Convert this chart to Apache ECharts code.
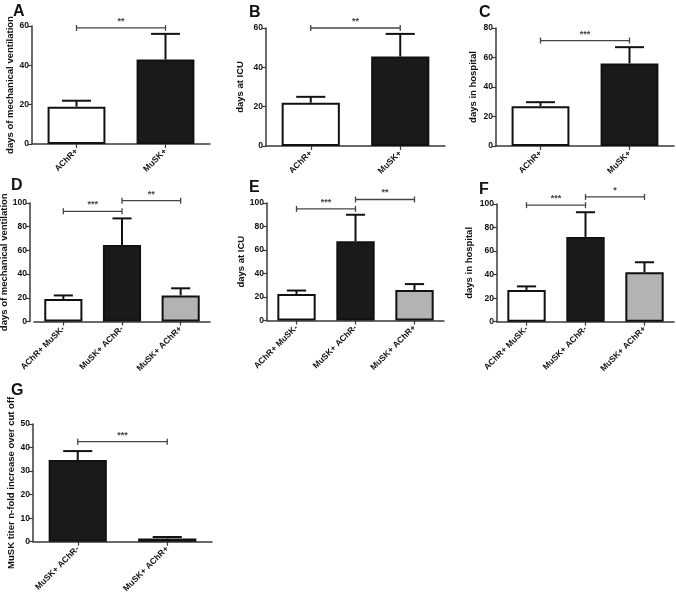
<!DOCTYPE html>
<html><head><meta charset="utf-8">
<script src="https://cdn.jsdelivr.net/npm/echarts/dist/echarts.min.js"></script>
<style>html,body{margin:0;padding:0;background:#fff}#c{width:676px;height:600px}</style>
</head><body><div id="c"></div>
<script>
// ---- data ----
const catsTwo = ['AChR+', 'MuSK+'];
const catsThree = ['AChR+ MuSK-', 'MuSK+ AChR-', 'MuSK+ AChR+'];
const catsG = ['MuSK+ AChR-', 'MuSK+ AChR+'];

const meanA = [19, 43];     const errA = [3, 13];
const meanB = [22, 45.5];   const errB = [3, 11.5];
const meanC = [27, 56];     const errC = [2.7, 11];
const meanD = [19, 64.5, 22];   const errD = [3, 22.5, 6];
const meanE = [22.5, 67.5, 26]; const errE = [3, 22.5, 5];
const meanF = [27, 72, 42];     const errF = [3, 21, 8.5];
const meanG = [34.7, 1.4];      const errG = [3.8, 0.6];

// significance: [fromIndex, toIndex, yValue]
const sigA = [[0, 1, 59]];    const sigTextA = ['**'];
const sigB = [[0, 1, 60]];    const sigTextB = ['**'];
const sigC = [[0, 1, 71.5]];  const sigTextC = ['***'];
const sigD = [[0, 1, 93], [1, 2, 102]];  const sigTextD = ['***', '**'];
const sigE = [[0, 1, 95], [1, 2, 103]];  const sigTextE = ['***', '**'];
const sigF = [[0, 1, 99], [1, 2, 106]];  const sigTextF = ['***', '*'];
const sigG = [[0, 1, 42.5]];  const sigTextG = ['***'];

const yTicksMax = {A: 60, B: 60, C: 80, D: 100, E: 100, F: 100, G: 50};
const yTicksStep = {A: 20, B: 20, C: 20, D: 20, E: 20, F: 20, G: 10};

// ---- styles / layout ----
const WHITE = '#ffffff', BLACK = '#1a1a1a', GRAY = '#b3b3b3';
const FONT = '"Liberation Sans", Arial, Helvetica, sans-serif';
const AX = '#3a3a3a', TXT = '#111';

const panels = [
  {id:'A', cats:catsTwo, mean:meanA, err:errA, sig:sigA, sigText:sigTextA, colors:[WHITE, BLACK],
   yName:'days of mechanical ventilation', grid:{left:32, top:26, width:178, height:118}, gap:16, off:0, letter:[13, 4]},
  {id:'B', cats:catsTwo, mean:meanB, err:errB, sig:sigB, sigText:sigTextB, colors:[WHITE, BLACK],
   yName:'days at ICU', grid:{left:266, top:28, width:179, height:118}, gap:21, off:0, letter:[249, 5]},
  {id:'C', cats:catsTwo, mean:meanC, err:errC, sig:sigC, sigText:sigTextC, colors:[WHITE, BLACK],
   yName:'days in hospital', grid:{left:496, top:28, width:178, height:118}, gap:18, off:0, letter:[479, 5]},
  {id:'D', cats:catsThree, mean:meanD, err:errD, sig:sigD, sigText:sigTextD, colors:[WHITE, BLACK, GRAY],
   yName:'days of mechanical ventilation', grid:{left:34, top:203, width:176, height:118.5}, gap:15, off:4, letter:[11, 178]},
  {id:'E', cats:catsThree, mean:meanE, err:errE, sig:sigE, sigText:sigTextE, colors:[WHITE, BLACK, GRAY],
   yName:'days at ICU', grid:{left:267, top:203, width:177, height:117.5}, gap:21, off:0, letter:[249, 180]},
  {id:'F', cats:catsThree, mean:meanF, err:errF, sig:sigF, sigText:sigTextF, colors:[WHITE, BLACK, GRAY],
   yName:'days in hospital', grid:{left:497, top:204, width:177, height:117.7}, gap:23, off:0, letter:[479, 182]},
  {id:'G', cats:catsG, mean:meanG, err:errG, sig:sigG, sigText:sigTextG, colors:[BLACK, GRAY],
   yName:'MuSK titer n-fold increase over cut off', grid:{left:33, top:424, width:179, height:117.7}, gap:17, off:0, letter:[11, 383]}
];

const BAR_FRAC = 0.65;
const grids = [], xAxes = [], yAxes = [], series = [], graphics = [];

panels.forEach((p, k) => {
  grids.push(Object.assign({outerBoundsMode:'none', containLabel:false}, p.grid));
  xAxes.push({
    type:'category', gridIndex:k, data:p.cats,
    axisLine:{show:true, lineStyle:{color:AX, width:1.5}},
    axisTick:{show:true, alignWithLabel:true, length:4, lineStyle:{color:AX, width:1.2}},
    axisLabel:{interval:0, rotate:45, fontSize:8.5, fontWeight:'bold', color:TXT, fontFamily:FONT, margin:6},
    splitLine:{show:false}
  });
  yAxes.push({
    type:'value', gridIndex:k, min:0, max:yTicksMax[p.id], interval:yTicksStep[p.id], offset:p.off,
    name:p.yName, nameLocation:'middle', nameGap:p.gap,
    nameTextStyle:{fontSize:9.5, fontWeight:'bold', color:TXT, fontFamily:FONT},
    axisLine:{show:true, lineStyle:{color:AX, width:1.5}},
    axisTick:{show:true, length:4, lineStyle:{color:AX, width:1.2}},
    axisLabel:{fontSize:8.5, fontWeight:'bold', color:TXT, fontFamily:FONT, margin:3},
    splitLine:{show:false}
  });
  series.push({
    type:'bar', xAxisIndex:k, yAxisIndex:k, barWidth:(BAR_FRAC*100)+'%',
    data:p.mean.map((v, i) => ({value:v, itemStyle:{color:p.colors[i], borderColor:'#111', borderWidth:2}})),
    silent:true, animation:false, z:2
  });
  series.push({
    type:'custom', xAxisIndex:k, yAxisIndex:k, animation:false, silent:true, z:3, clip:false,
    encode:{x:0, y:[1, 2]},
    data:p.mean.map((v, i) => [i, v, v + p.err[i]]),
    renderItem:(params, api) => {
      const i = api.value(0);
      const p0 = api.coord([i, api.value(1)]);
      const p1 = api.coord([i, api.value(2)]);
      const cap = api.size([1, 0])[0] * BAR_FRAC * 0.5;
      return {type:'group', children:[
        {type:'line', shape:{x1:p0[0], y1:p0[1], x2:p1[0], y2:p1[1]}, style:{stroke:'#111', lineWidth:2}},
        {type:'line', shape:{x1:p1[0]-cap/2, y1:p1[1], x2:p1[0]+cap/2, y2:p1[1]}, style:{stroke:'#111', lineWidth:2}}
      ]};
    }
  });
  const texts = p.sigText;
  series.push({
    type:'custom', xAxisIndex:k, yAxisIndex:k, animation:false, silent:true, z:4, clip:false,
    encode:{x:[0, 1], y:2},
    data:p.sig,
    renderItem:(params, api) => {
      const a = api.coord([api.value(0), api.value(2)]);
      const b = api.coord([api.value(1), api.value(2)]);
      const st = {stroke:'#444', lineWidth:1.3};
      return {type:'group', children:[
        {type:'line', shape:{x1:a[0], y1:a[1], x2:b[0], y2:b[1]}, style:st},
        {type:'line', shape:{x1:a[0], y1:a[1]-3, x2:a[0], y2:a[1]+3}, style:st},
        {type:'line', shape:{x1:b[0], y1:b[1]-3, x2:b[0], y2:b[1]+3}, style:st},
        {type:'text', x:(a[0]+b[0])/2, y:a[1]-2, style:{text:texts[params.dataIndex], fill:'#444',
          font:'bold 9px ' + FONT, textAlign:'center', textVerticalAlign:'bottom'}}
      ]};
    }
  });
  graphics.push({type:'text', left:p.letter[0], top:p.letter[1],
    style:{text:p.id, fill:'#111', font:'bold 16px ' + FONT}});
});

const chart = echarts.init(document.getElementById('c'), null, {renderer:'canvas'});
chart.setOption({
  backgroundColor:'#ffffff', animation:false,
  grid:grids, xAxis:xAxes, yAxis:yAxes, series:series, graphic:graphics
});
</script>
</body></html>
